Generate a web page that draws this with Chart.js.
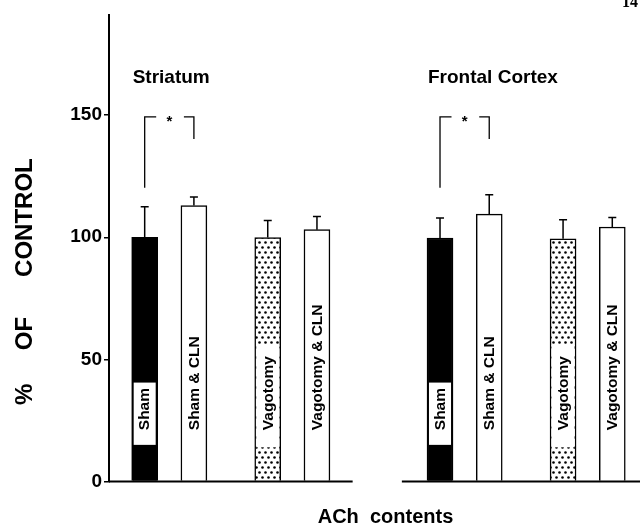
<!DOCTYPE html>
<html lang="en">
<head>
<meta charset="UTF-8">
<title>ACh contents – % of control</title>
<script src="https://cdn.jsdelivr.net/npm/chart.js"></script>
<style>
  html,body{width:640px;height:529px;margin:0;padding:0;overflow:hidden;background:#fff}
  #wrap{width:662px;height:529px}
</style>
</head>
<body>
<div id="wrap"><canvas id="c" width="662" height="529"></canvas></div>
<script>
/********** data **********/
const regions=['Striatum','Frontal Cortex'];
const treatments=['Sham','Sham & CLN','Vagotomy','Vagotomy & CLN'];
const striatumMean=[100,113,99.9,103.1];
const striatumErr=[12.5,3.5,7.0,5.4];
const frontalMean=[99.7,109.5,99.4,104.2];
const frontalErr=[8.2,7.9,7.8,3.9];
const yTicks=[0,50,100,150];
const sigPairs=[[0,1],[0,1]];   // * Sham vs Sham & CLN, one per region
const xTitle='ACh  contents';
const yTitle='%     OF      CONTROL          ';
const pageNo='14';

const means=[striatumMean,frontalMean];
const errs=[striatumErr,frontalErr];

/********** layout **********/
const SLOT0=1.45, SLOTS=[0,2,5,7], GROUP_STEP=12, XMAX=22.47;
const xPos=(g,t)=>SLOT0+GROUP_STEP*g+SLOTS[t];
const FONT='"Liberation Sans", Arial, sans-serif';

const canvas=document.getElementById('c');
const ctx=canvas.getContext('2d');

// dotted fill for the vagotomy bars
function dotPattern(){
  const p=document.createElement('canvas');p.width=6;p.height=10;
  const c=p.getContext('2d');
  c.fillStyle='#fff';c.fillRect(0,0,6,10);c.fillStyle='#000';
  [[1.5,2.5],[4.5,7.5]].forEach(([x,y])=>{c.beginPath();c.arc(x,y,1.3,0,Math.PI*2);c.fill();});
  return ctx.createPattern(p,'repeat');
}
const fills=['#000','#fff',dotPattern(),'#fff'];

/********** overlay: baseline, error bars, labels, brackets **********/
const overlay={
  id:'overlay',
  afterDatasetsDraw(chart){
    const {ctx,scales:{x,y}}=chart;
    ctx.save();
    ctx.strokeStyle='#000';ctx.fillStyle='#000';

    // broken x baseline
    ctx.lineWidth=2;
    [[0,9.9],[11.9,XMAX]].forEach(([a,b])=>{
      ctx.beginPath();
      ctx.moveTo(x.getPixelForValue(a),y.getPixelForValue(0));
      ctx.lineTo(x.getPixelForValue(b),y.getPixelForValue(0));
      ctx.stroke();
    });

    regions.forEach((r,g)=>{
      treatments.forEach((t,i)=>{
        const bar=chart.getDatasetMeta(i).data[g];
        const bx=bar.x, hw=bar.width/2;
        // error bar (upper only)
        const y0=y.getPixelForValue(means[g][i]), y1=y.getPixelForValue(means[g][i]+errs[g][i]);
        ctx.lineWidth=1.5;
        ctx.beginPath();ctx.moveTo(bx,y0);ctx.lineTo(bx,y1);ctx.moveTo(bx-4,y1);ctx.lineTo(bx+4,y1);ctx.stroke();
        // white window for the label
        if(i===0){
          ctx.fillStyle='#fff';
          ctx.fillRect(bx-hw+2,y.getPixelForValue(40.5),2*hw-4,y.getPixelForValue(15)-y.getPixelForValue(40.5));
        }
        if(i===2){
          ctx.fillStyle='#fff';
          ctx.fillRect(bx-hw+1.5,y.getPixelForValue(56),2*hw-3,y.getPixelForValue(14)-y.getPixelForValue(56));
        }
        // rotated bar label
        ctx.fillStyle='#000';
        ctx.save();
        ctx.translate(bx+0.5,y.getPixelForValue(21));
        ctx.rotate(-Math.PI/2);
        ctx.font='bold 15.5px '+FONT;ctx.textAlign='left';ctx.textBaseline='middle';
        ctx.fillText(t,0,0);
        ctx.restore();
      });
      // region title
      const first=chart.getDatasetMeta(0).data[g];
      ctx.font='bold 19px '+FONT;ctx.textAlign='left';ctx.textBaseline='alphabetic';
      ctx.fillText(r,first.x-first.width/2+1,y.getPixelForValue(163.3));
    });

    // significance brackets
    ctx.lineWidth=1.3;
    sigPairs.forEach(([a,b],g)=>{
      const xa=chart.getDatasetMeta(a).data[g].x, xb=chart.getDatasetMeta(b).data[g].x;
      const yt=y.getPixelForValue(149.3), ya=y.getPixelForValue(120.3), yb=y.getPixelForValue(140.2);
      ctx.beginPath();
      ctx.moveTo(xa,ya);ctx.lineTo(xa,yt);ctx.lineTo(xa+11.5,yt);
      ctx.moveTo(xb-10,yt);ctx.lineTo(xb,yt);ctx.lineTo(xb,yb);
      ctx.stroke();
      ctx.font='bold 15px '+FONT;ctx.textAlign='center';ctx.textBaseline='alphabetic';
      ctx.fillText('*',(xa+xb)/2,yt+9);
    });

    // page number, cut at the top edge
    ctx.font='bold 16px "Liberation Serif", serif';ctx.textAlign='left';
    ctx.fillText(pageNo,622,7);
    ctx.restore();
  }
};

/********** chart **********/
new Chart(ctx,{
  type:'bar',
  data:{
    datasets:treatments.map((t,i)=>({
      label:t,
      data:regions.map((r,g)=>({x:xPos(g,i),y:means[g][i]})),
      backgroundColor:fills[i],borderColor:'#000',borderWidth:1.5,
      barThickness:26,grouped:false
    }))
  },
  options:{
    responsive:false,animation:false,
    layout:{padding:{top:15,left:0,right:0,bottom:0}},
    plugins:{legend:{display:false},tooltip:{enabled:false}},
    scales:{
      x:{
        type:'linear',min:0,max:XMAX,offset:false,
        grid:{display:false},border:{display:false},ticks:{display:false},
        title:{display:true,text:xTitle,color:'#000',font:{family:FONT,size:20,weight:'bold'},padding:{top:0,bottom:0}},
        afterFit:s=>{s.height=47.5;}
      },
      y:{
        min:0,max:191,
        afterBuildTicks:s=>{s.ticks=yTicks.map(v=>({value:v}));},
        ticks:{color:'#000',padding:2,font:{family:FONT,size:19,weight:'bold'}},
        grid:{drawOnChartArea:false,drawTicks:true,tickLength:5,color:'#000',lineWidth:1.5},
        border:{display:true,color:'#000',width:2},
        title:{display:true,text:yTitle,color:'#000',font:{family:FONT,size:24,weight:'bold'},padding:{top:10.6,bottom:0}},
        afterFit:s=>{s.width=109;}
      }
    }
  },
  plugins:[overlay]
});
</script>
</body>
</html>
